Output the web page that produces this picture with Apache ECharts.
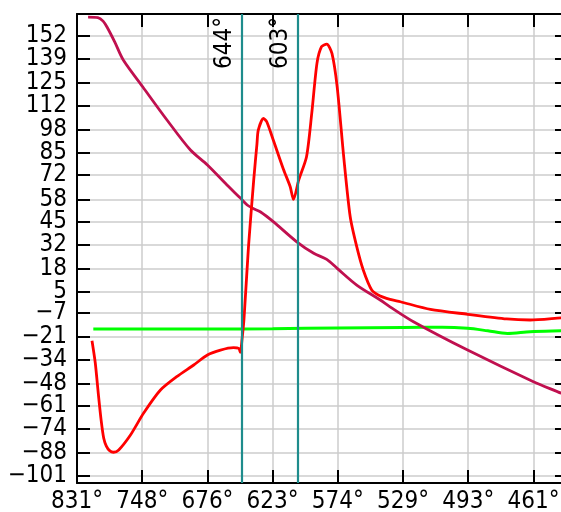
<!DOCTYPE html>
<html>
<head>
<meta charset="utf-8">
<script src="https://cdn.jsdelivr.net/npm/echarts@6/dist/echarts.min.js"></script>
<style>
html, body { margin: 0; padding: 0; background: #fff; }
#chart { width: 561px; height: 512px; }
</style>
</head>
<body>
<div id="chart"></div>
<script>
// x is in tick steps (time), labels are the temperatures at those ticks
const xTickLabels = ['831°', '748°', '676°', '623°', '574°', '529°', '493°', '461°']
const yTickValues = [152, 139, 125, 112, 98, 85, 72, 58, 45, 32, 18, 5, -7, -21, -34, -48, -61, -74, -88, -101]
const yMin = -105.2
const yMax = 164.7

// temperature curve (crimson)
const tempCurve = [
	[0.17, 162.9], [0.32, 162.6], [0.40, 160.6], [0.46, 157.2], [0.58, 148.5], [0.71, 138.2],
	[1.01, 122.7], [1.38, 103.7], [1.74, 86.4], [2.0, 77.8], [2.30, 66.3], [2.51, 58.6],
	[2.61, 54.8], [2.71, 52.6], [2.81, 50.9], [3.01, 45.2], [3.37, 33.6], [3.63, 27.0],
	[3.83, 23.5], [3.99, 18.3], [4.29, 8.7], [4.65, 0.1], [4.80, -3.8], [5.16, -12.4],
	[5.99, -28.7], [7.0, -46.9], [7.43, -53.6], [7.55, -55.8]
]
// heat flow (red)
const heatFlow = [
	[0.23, -23.3], [0.28, -36.0], [0.33, -55.0], [0.37, -69.0], [0.41, -79.5], [0.45, -84.0],
	[0.50, -86.6], [0.56, -87.5], [0.64, -86.2], [0.82, -77.6], [1.02, -65.1], [1.28, -51.7],
	[1.53, -44.0], [1.79, -37.3], [2.0, -31.5], [2.2, -28.7], [2.40, -27.3], [2.48, -27.7],
	[2.506, -30.0], [2.53, -22.9], [2.56, -11.4], [2.63, 30.8], [2.71, 69.1], [2.76, 90.0],
	[2.78, 97.9], [2.86, 104.6], [2.91, 102.7], [3.01, 92.2], [3.17, 74.9], [3.27, 65.3],
	[3.32, 58.0], [3.40, 69.1], [3.52, 82.6], [3.60, 107.5], [3.68, 136.3], [3.75, 145.9],
	[3.83, 147.4], [3.91, 142.0], [3.99, 122.8], [4.09, 82.6], [4.19, 48.0], [4.29, 30.8],
	[4.39, 17.4], [4.52, 5.9], [4.65, 2.4], [4.80, 0.5], [4.96, -0.9], [5.42, -5.3],
	[5.99, -8.1], [6.59, -10.8], [6.95, -11.4], [7.43, -10.1], [7.55, -9.9]
]
// baseline (green)
const baseLine = [
	[0.25, -16.6], [1.0, -16.6], [2.0, -16.6], [3.0, -16.4], [4.0, -16.0], [5.0, -15.7],
	[5.6, -15.6], [5.99, -16.2], [6.3, -17.6], [6.6, -19.1], [6.95, -18.1], [7.43, -17.6], [7.55, -17.5]
]
// transition markers
const markerX = [2.527, 3.387]
const markerLabels = ['644°', '603°']

const chart = echarts.init(document.getElementById('chart'))
const font = '"DejaVu Sans Condensed", "Liberation Sans"'
const axisLine = { show: true, onZero: false, lineStyle: { color: '#000', width: 2 } }
const tick = { show: true, inside: true, length: 13, lineStyle: { color: '#000', width: 2 } }
// empty labels at the axis ends so the min/max label check does not drop 139 and -88
const yLabelValues = [yMax].concat(yTickValues, [yMin])
const yLabel = (v) => yTickValues.indexOf(v) >= 0 ? String(v).replace('-', '\u2212') : ''

chart.setOption({
	animation: false,
	grid: { left: 77, top: 14, right: -7, bottom: 29, outerBoundsMode: 'none', containLabel: false },
	xAxis: [
		{
			type: 'value', min: 0, max: 7.53, interval: 1,
			axisLine: axisLine,
			axisTick: tick,
			axisLabel: {
				fontFamily: font, fontSize: 24, color: '#000', margin: 7,
				formatter: (v) => Number.isInteger(v) && xTickLabels[v] ? xTickLabels[v] : '',
			},
			splitLine: { show: true, lineStyle: { color: '#cccccc', width: 1.5 } },
		},
		{
			type: 'value', position: 'top', min: 0, max: 7.53, interval: 1,
			axisLine: axisLine,
			axisTick: tick,
			axisLabel: { show: false },
			splitLine: { show: false },
		},
	],
	yAxis: [
		{
			type: 'value', min: yMin, max: yMax,
			axisLine: axisLine,
			axisTick: Object.assign({ customValues: yTickValues }, tick),
			axisLabel: {
				fontFamily: font, fontSize: 24, lineHeight: 16, color: '#000', margin: 10,
				hideOverlap: false,
				customValues: yLabelValues, formatter: yLabel,
			},
			splitLine: { show: true, lineStyle: { color: '#cccccc', width: 1.5 } },
		},
		{
			type: 'value', position: 'right', min: yMin, max: yMax,
			axisLine: axisLine,
			axisTick: Object.assign({ customValues: yTickValues }, tick),
			axisLabel: { show: false },
			splitLine: { show: false },
		},
	],
	series: [
		{
			type: 'line', data: baseLine, showSymbol: false, smooth: 0.3,
			lineStyle: { color: '#00ff00', width: 3 },
			markLine: {
				silent: true, symbol: 'none',
				lineStyle: { color: '#1e8c8c', width: 2.2, type: 'solid' },
				label: {
					position: 'insideEndTop', fontFamily: font, fontSize: 24, color: '#000',
					distance: [3, 5],
					formatter: (p) => p.name,
				},
				data: markerX.map((x, i) => ({ xAxis: x, name: markerLabels[i] })),
			},
		},
		{
			type: 'line', data: tempCurve, showSymbol: false, smooth: 0.3,
			lineStyle: { color: '#c0104f', width: 2.8 },
		},
		{
			type: 'line', data: heatFlow, showSymbol: false, smooth: 0.25,
			lineStyle: { color: '#ff0000', width: 2.8 },
		},
	],
})
</script>
</body>
</html>
